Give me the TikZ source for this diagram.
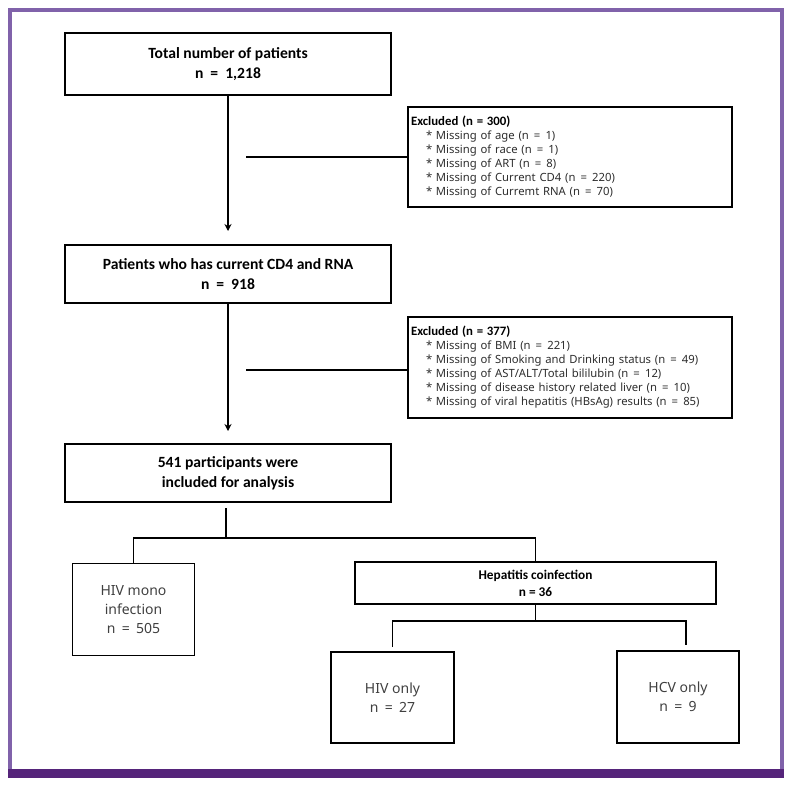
\documentclass[tikz,border=0pt]{standalone}
\usepackage{fontspec}
\setmainfont{Noto Sans}
\newfontfamily\hdfont{Carlito}
\usetikzlibrary{arrows.meta}
\definecolor{framec}{HTML}{8062AA}
\definecolor{barc}{HTML}{55247A}
\definecolor{txtgray}{HTML}{404040}
\newcommand{\eqs}{\hspace{0.45em}=\hspace{0.45em}}
\newcommand{\itm}{\hspace*{15pt}* }
\begin{document}
\begin{tikzpicture}[x=1pt,y=-1pt,
  mainbox/.style={draw=black,line width=2.4pt,minimum width=326pt,minimum height=#1,inner sep=0pt,align=center,font=\hdfont\bfseries\fontsize{15.6}{19.5}\selectfont},
  exbox/.style={draw=black,line width=2pt,minimum width=324pt,minimum height=100pt,inner xsep=2pt,text width=318pt,align=left,font=\fontsize{11.3}{14}\selectfont,text=txtgray!70!black},
  subbox/.style={draw=black,line width=1.5pt,minimum width=122pt,minimum height=92pt,inner sep=0pt,align=center,font=\fontsize{14}{19}\selectfont,text=txtgray},
  arr/.style={line width=1.8pt,-{Stealth[length=7pt,width=7pt]}},
  conn/.style={line width=1.8pt},
  tree/.style={line width=1.8pt}]
\useasboundingbox (0,0) rectangle (789,785);
% frame
\draw[framec,line width=3.6pt] (10,773) -- (10,10) -- (782,10) -- (782,773);
\fill[barc] (8,769) rectangle (784,778);
% main boxes
\node[mainbox=62pt] (b1) at (228,64) {Total number of patients\\n\eqs1,218};
\node[mainbox=58pt] (b2) at (228,274) {Patients who has current CD4 and RNA\\n\eqs918};
\node[mainbox=58pt] (b3) at (228,473) {541 participants were\\included for analysis};
% excluded boxes
\node[exbox] (ex1) at (570,157) {{\hdfont\bfseries\fontsize{12.8}{14}\selectfont\color{black}Excluded (n = 300)}\\
\itm Missing of age (n\eqs1)\\
\itm Missing of race (n\eqs1)\\
\itm Missing of ART (n\eqs8)\\
\itm Missing of Current CD4 (n\eqs220)\\
\itm Missing of Curremt RNA (n\eqs70)};
\node[exbox,minimum height=101pt] (ex2) at (570,367.5) {{\hdfont\bfseries\fontsize{12.8}{14}\selectfont\color{black}Excluded (n = 377)}\\
\itm Missing of BMI (n\eqs221)\\
\itm Missing of Smoking and Drinking status (n\eqs49)\\
\itm Missing of AST/ALT/Total bililubin (n\eqs12)\\
\itm Missing of disease history related liver (n\eqs10)\\
\itm Missing of viral hepatitis (HBsAg) results (n\eqs85)};
% lower boxes
\node[subbox] (mono) at (133.5,609.5) {HIV mono\\infection\\n\eqs505};
\node[draw=black,line width=1.8pt,minimum width=361pt,minimum height=42pt,inner sep=0pt,align=center,font=\hdfont\bfseries\fontsize{13.3}{17}\selectfont] (hep) at (535.5,583) {Hepatitis coinfection\\n = 36};
\node[subbox,minimum width=123pt,minimum height=91pt] (hiv) at (392.5,697.5) {HIV only\\n\eqs27};
\node[subbox] (hcv) at (678,697) {HCV only\\n\eqs9};
% connectors
\coordinate (a1) at (228,231);
\coordinate (a2) at (228,431);
\coordinate (e1) at (246,157);
\coordinate (e2) at (246,370);
\draw[arr] (b1.south) -- (a1);
\draw[arr] (b2.south) -- (a2);
\draw[conn] (e1) -- (ex1.west);
\draw[conn] (e2) -- (ex2.west |- e2);
\coordinate (t0) at (226,508);
\coordinate (t1) at (226,538);
\draw[tree] (t0) -- (t1);
\draw[tree] (mono.north) -- (mono.north |- t1) -- (hep.north |- t1) -- (hep.north);
\coordinate (h1) at (535.5,621);
\coordinate (hl) at (392.5,621);
\coordinate (hr) at (686,621);
\coordinate (hl2) at (392.5,647);
\coordinate (hr2) at (686,645);
\draw[tree] (hep.south) -- (h1);
\draw[tree] (hl2) -- (hl) -- (hr) -- (hr2);
\end{tikzpicture}
\end{document}
